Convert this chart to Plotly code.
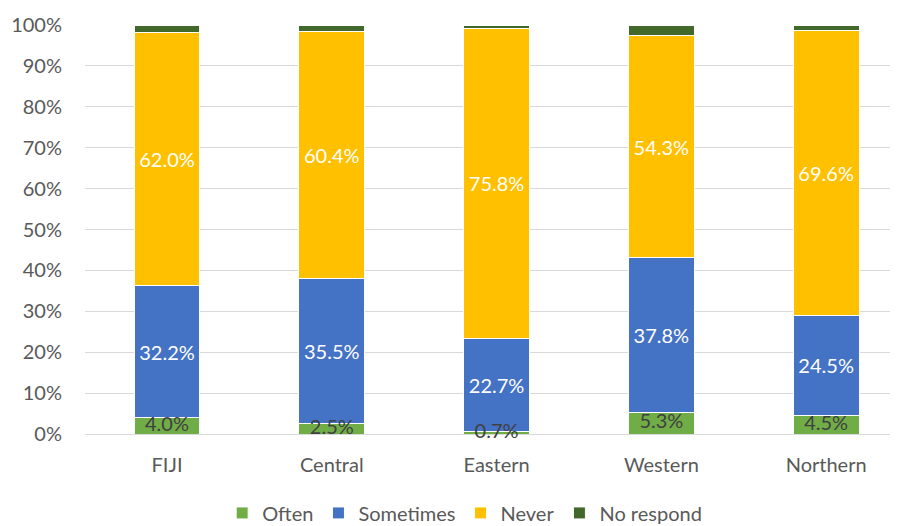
import plotly.graph_objects as go

categories = ["FIJI", "Central", "Eastern", "Western", "Northern"]
often = [4.0, 2.5, 0.7, 5.3, 4.5]
sometimes = [32.2, 35.5, 22.7, 37.8, 24.5]
never = [62.0, 60.4, 75.8, 54.3, 69.6]
no_respond = [1.8, 1.6, 0.8, 2.6, 1.4]
y_ticks = [0, 10, 20, 30, 40, 50, 60, 70, 80, 90, 100]
y_tick_labels = [f"{v}%" for v in y_ticks]

FONT = "Lato"
series = [
    ("Often", often, "#70AD47", "#404040", False),
    ("Sometimes", sometimes, "#4472C4", "#FFFFFF", True),
    ("Never", never, "#FFC000", "#FFFFFF", True),
    ("No respond", no_respond, "#43682B", "#FFFFFF", False),
]

fig = go.Figure()
for name, vals, color, tcolor, show_text in series:
    fig.add_trace(go.Bar(
        name=name, x=categories, y=vals,
        marker=dict(color=color, line=dict(color="white", width=1)),
        width=0.4,
        text=[f"{v:.1f}%" for v in vals] if show_text else None,
        textposition="inside" if show_text else "none",
        insidetextanchor="middle",
        textangle=0,
        textfont=dict(family=FONT, size=20, color=tcolor),
        cliponaxis=False,
        hoverinfo="skip",
    ))

# "Often" labels drawn on top, centred on their segments
fig.add_trace(go.Scatter(
    x=categories, y=[v / 2 for v in often], mode="text",
    text=[f"{v:.1f}%" for v in often],
    textposition="middle center",
    textfont=dict(family=FONT, size=20, color="#404040"),
    showlegend=False, cliponaxis=False, hoverinfo="skip",
))

fig.update_layout(
    barmode="stack",
    width=890, height=518,
    margin=dict(l=77, r=0, t=17, b=92, autoexpand=False),
    paper_bgcolor="white", plot_bgcolor="white",
    font=dict(family=FONT, size=20, color="#595959"),
    uniformtext=dict(minsize=20, mode="show"),
    showlegend=True,
    legend=dict(
        orientation="h", xref="paper", yref="paper",
        x=0.467, xanchor="center", y=-0.193, yanchor="middle",
        font=dict(family=FONT, size=20, color="#595959"),
        traceorder="normal", itemwidth=30,
    ),
    xaxis=dict(
        range=[-0.4976, 4.436], showgrid=False, zeroline=False,
        showline=False, ticks="", ticklabelstandoff=17,
        tickfont=dict(family=FONT, size=20, color="#595959"),
    ),
    yaxis=dict(
        range=[0, 100], tickvals=y_ticks, ticktext=y_tick_labels,
        showgrid=True, gridcolor="#D9D9D9", gridwidth=1,
        zeroline=True, zerolinecolor="#D9D9D9", zerolinewidth=1,
        showline=False, ticks="", ticklabelstandoff=22,
        tickfont=dict(family=FONT, size=20, color="#595959"),
    ),
)

fig.write_html("out.html")
